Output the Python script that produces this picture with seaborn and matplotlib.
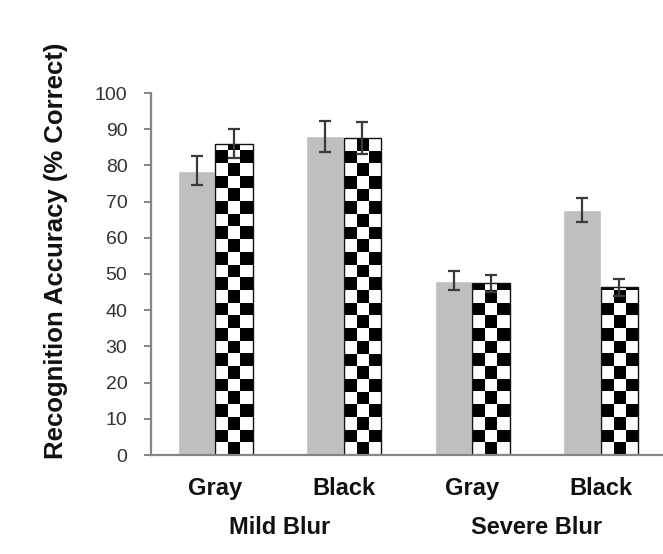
import numpy as np
import pandas as pd
import matplotlib
matplotlib.use("Agg")
import matplotlib.pyplot as plt
import matplotlib.transforms as mtransforms
from matplotlib.patches import Rectangle
import seaborn as sns

# Recognition accuracy by letter colour and blur level
conditions = ["Gray", "Black", "Gray ", "Black "]
blur_levels = ["Mild Blur", "Severe Blur"]
series = ["Solid", "Checker"]
solid_means = [78.5, 88.0, 48.2, 67.7]
solid_err = [4.0, 4.4, 2.5, 3.3]
checker_means = [86.0, 87.5, 47.4, 46.3]
checker_err = [4.0, 4.4, 2.4, 2.3]
y_ticks = [0, 10, 20, 30, 40, 50, 60, 70, 80, 90, 100]

df = pd.DataFrame({
    "condition": conditions * 2,
    "accuracy": solid_means + checker_means,
    "series": [series[0]] * 4 + [series[1]] * 4,
})

sns.set_theme(style="white")
plt.rcParams["font.family"] = ["Liberation Sans", "DejaVu Sans"]

W, H = 663, 554
fig = plt.figure(figsize=(W / 100, H / 100), dpi=100)
ax_left, ax_bottom, ax_top = 151, 455, 93
ax = fig.add_axes([ax_left / W, (H - ax_bottom) / H, (W - ax_left) / W,
                   (ax_bottom - ax_top) / H])

sns.barplot(data=df, x="condition", y="accuracy", hue="series",
            palette=["#bfbfbf", "white"], width=0.58, gap=0,
            errorbar=None, legend=False, ax=ax, saturation=1)

# Error bars
for cont, errs in zip(ax.containers, [solid_err, checker_err]):
    for bar, e in zip(cont, errs):
        cx = bar.get_x() + bar.get_width() / 2
        ax.errorbar(cx, bar.get_height(), yerr=e, fmt="none", ecolor="#3a3a3a",
                    elinewidth=1.6, capsize=4, capthick=1.6, zorder=5)

# Checkerboard fill for the second series
sq_h = 3.5
for bar in ax.containers[1]:
    x0, w, h = bar.get_x(), bar.get_width(), bar.get_height()
    nrows = int(np.ceil(h / sq_h)) + 1
    rows = np.arange(nrows)[:, None]
    cols = np.arange(3)[None, :]
    board = ((rows + cols) % 2 == 0).astype(float)[::-1]
    im = ax.imshow(board, cmap="gray", vmin=0, vmax=1, aspect="auto",
                   extent=(x0, x0 + w, 0, nrows * sq_h), interpolation="nearest",
                   zorder=bar.get_zorder() + 0.1)
    im.set_clip_path(bar)
    ax.add_patch(Rectangle((x0, 0), w, h, fill=False, edgecolor="#111111",
                           linewidth=1.0, zorder=bar.get_zorder() + 0.2))

ax.set_xlim(-0.5, (W - ax_left) / 128.5 - 0.5)
ax.set_ylim(0, 100)

# Axes styling
for s in ["top", "right"]:
    ax.spines[s].set_visible(False)
for s in ["left", "bottom"]:
    ax.spines[s].set_color("#868686")
    ax.spines[s].set_linewidth(1.6)
ax.set_yticks(y_ticks)
ax.tick_params(axis="y", direction="out", length=5, width=1.4, color="#868686",
               labelsize=14, labelcolor="#333333", pad=12, left=True)
ax.set_xticks(range(4))
ax.set_xticklabels([c.strip() for c in conditions], fontsize=17,
                   fontweight="bold", color="#111111")
ax.tick_params(axis="x", length=0, pad=16)
ax.set_xlabel("")
ax.set_ylabel("")
fig.text(56 / W, 1 - 251 / H, "Recognition Accuracy (% Correct)", rotation=90,
         ha="center", va="center", fontsize=18.5, fontweight="bold",
         color="#111111")

trans = mtransforms.blended_transform_factory(ax.transData, fig.transFigure)
for i, name in enumerate(blur_levels):
    ax.text(2 * i + 0.5, 1 - 528 / H, name, transform=trans, ha="center",
            va="center", fontsize=17, fontweight="bold", color="#111111")

fig.savefig("out.png", dpi=100, facecolor="white")
